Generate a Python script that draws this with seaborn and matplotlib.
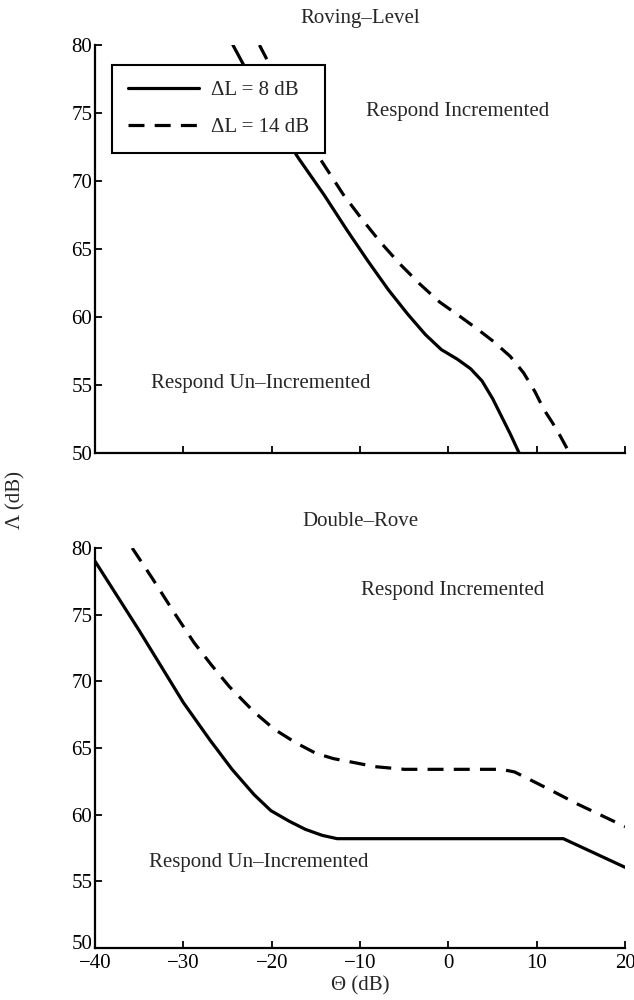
import numpy as np
import pandas as pd
import matplotlib
matplotlib.use("Agg")
import matplotlib.pyplot as plt
import matplotlib.transforms as mtransforms
import seaborn as sns

# ---- data ----
rl_solid_theta = [-24.4, -22.0, -19.5, -17.0, -14.1, -11.5, -9.1, -6.8, -4.6, -2.6, -0.8, 1.0, 2.5, 3.8, 5.0, 6.0, 7.0, 8.0]
rl_solid_lam   = [80.0, 77.1, 74.3, 71.7, 69.0, 66.4, 64.1, 62.0, 60.2, 58.7, 57.6, 56.9, 56.2, 55.3, 54.0, 52.7, 51.4, 50.0]
rl_dash_theta  = [-21.4, -19.0, -16.8, -14.9, -11.9, -9.8, -7.7, -5.5, -3.2, -1.0, 1.4, 3.3, 5.1, 7.0, 8.5, 9.8, 10.8, 11.8, 12.7, 13.7]
rl_dash_lam    = [80.0, 77.0, 74.2, 72.0, 69.0, 67.2, 65.5, 63.9, 62.4, 61.1, 60.0, 59.1, 58.2, 57.1, 55.9, 54.5, 53.2, 52.2, 51.2, 50.0]

dr_solid_theta = [-40.0, -35.0, -30.0, -27.0, -24.5, -22.0, -20.1, -18.0, -16.2, -14.3, -12.6, 13.0, 20.0]
dr_solid_lam   = [79.0, 73.8, 68.4, 65.6, 63.4, 61.5, 60.3, 59.5, 58.9, 58.45, 58.2, 58.2, 56.05]
dr_dash_theta  = [-35.8, -33.5, -31.0, -28.8, -26.8, -24.8, -22.0, -19.7, -17.3, -15.0, -13.0, -11.4, -8.3, -5.0, 6.0, 7.5, 9.0, 11.4, 14.6, 20.0]
dr_dash_lam    = [80.0, 77.7, 75.1, 72.9, 71.2, 69.6, 67.7, 66.4, 65.4, 64.6, 64.2, 64.0, 63.6, 63.4, 63.4, 63.2, 62.7, 61.9, 60.8, 59.1]

series_labels = ["ΔL = 8 dB", "ΔL = 14 dB"]
panel_titles = ["Roving–Level", "Double–Rove"]
x_ticks = [-40, -30, -20, -10, 0, 10, 20]
y_ticks = [50, 55, 60, 65, 70, 75, 80]
region_up = "Respond Incremented"
region_down = "Respond Un–Incremented"

sns.set_theme(style="ticks")
plt.rcParams["font.family"] = ["Liberation Serif", "DejaVu Serif"]

def make_df(st, sl, dt, dl):
    return pd.concat([
        pd.DataFrame({"theta": st, "lam": sl, "series": series_labels[0]}),
        pd.DataFrame({"theta": dt, "lam": dl, "series": series_labels[1]}),
    ], ignore_index=True)

df_rl = make_df(rl_solid_theta, rl_solid_lam, rl_dash_theta, rl_dash_lam)
df_dr = make_df(dr_solid_theta, dr_solid_lam, dr_dash_theta, dr_dash_lam)

fig = plt.figure(figsize=(6.34, 10.0), dpi=100)
ax1 = fig.add_axes([0.150, 0.547, 0.836, 0.408])
ax2 = fig.add_axes([0.150, 0.052, 0.836, 0.400])

dash_map = {series_labels[0]: "", series_labels[1]: (5, 3.2)}
FS = 15

for ax, df, title, txt_up, txt_down in [
    (ax1, df_rl, panel_titles[0], (1.0, 75.1), (-21.3, 55.1)),
    (ax2, df_dr, panel_titles[1], (0.5, 76.8), (-21.5, 56.4)),
]:
    sns.lineplot(data=df, x="theta", y="lam", style="series", dashes=dash_map,
                 color="black", linewidth=2.3, sort=False, estimator=None,
                 ax=ax, legend=(ax is ax1), zorder=2)
    ax.set_xlim(-40, 20)
    ax.set_ylim(50, 80)
    ax.set_xticks(x_ticks)
    ax.set_yticks(y_ticks)
    ax.set_xlabel("")
    ax.set_ylabel("")
    ax.set_title(title, fontsize=FS, pad=16)
    for s in ["top", "right"]:
        ax.spines[s].set_visible(False)
    for s in ["left", "bottom"]:
        ax.spines[s].set_linewidth(1.6)
        ax.spines[s].set_color("black")
    ax.tick_params(direction="in", length=5, width=1.3, labelsize=FS,
                   colors="black", pad=2)
    ax.text(*txt_up, region_up, fontsize=FS, ha="center", va="center")
    ax.text(*txt_down, region_down, fontsize=FS, ha="center", va="center")
    ax.set_facecolor("white")

ax1.set_xticklabels([])
ax2.set_xticklabels([("−" + str(abs(v))) if v < 0 else str(v) for v in x_ticks])
ax2.tick_params(axis="x", pad=4)

# nudge the bottom "50" label up slightly so it does not collide with "−40"
lbl50 = ax2.get_yticklabels()[0]
lbl50.set_transform(lbl50.get_transform() +
                    mtransforms.ScaledTranslation(0, 4 / 72, fig.dpi_scale_trans))

handles, labels = ax1.get_legend_handles_labels()
leg = ax1.legend(handles, labels, loc="upper left", bbox_to_anchor=(0.032, 0.951),
                 fontsize=FS, frameon=True, fancybox=False, shadow=False,
                 framealpha=1.0, edgecolor="black", handlelength=3.4,
                 handletextpad=0.6, borderpad=0.75, labelspacing=0.85,
                 borderaxespad=0.0)
leg.get_frame().set_linewidth(1.5)
leg.set_zorder(5)

ax2.set_xlabel("Θ (dB)", fontsize=FS, labelpad=3)
fig.text(0.025, 0.5, "Λ (dB)", rotation=90, fontsize=FS, ha="center", va="center")

fig.savefig("out.png", dpi=100, facecolor="white")
